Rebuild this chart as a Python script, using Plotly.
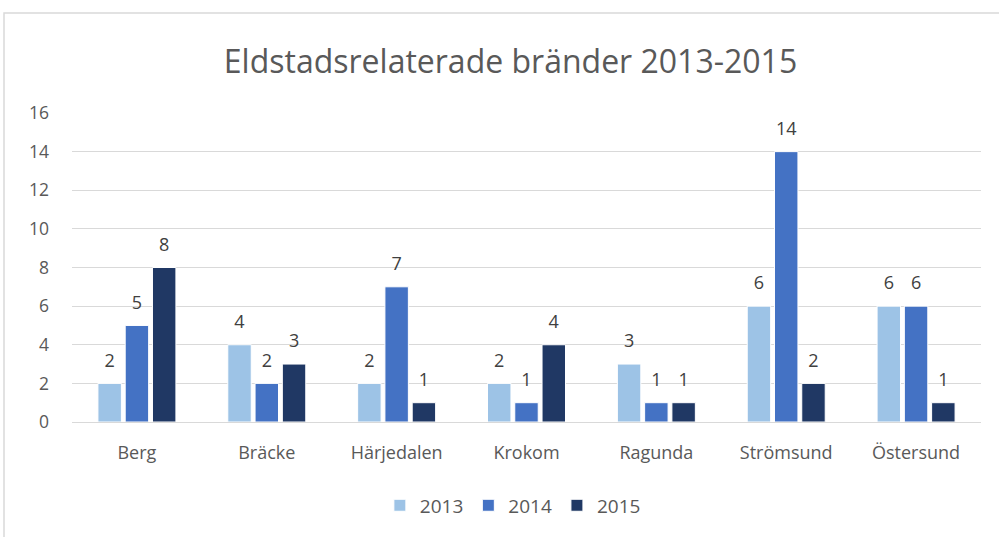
import plotly.graph_objects as go

categories = ["Berg", "Bräcke", "Härjedalen", "Krokom", "Ragunda", "Strömsund", "Östersund"]
v2013 = [2, 4, 2, 2, 3, 6, 6]
v2014 = [5, 2, 7, 1, 1, 14, 6]
v2015 = [8, 3, 1, 4, 1, 2, 1]
series_names = ["2013", "2014", "2015"]
colors = ["#9DC3E6", "#4472C4", "#203864"]

fig = go.Figure()
for name, vals, col in zip(series_names, [v2013, v2014, v2015], colors):
    fig.add_trace(go.Bar(
        x=categories, y=vals, name=name,
        marker=dict(color=col, line=dict(color="white", width=1)),
        offsetgroup=name, alignmentgroup="g",
    ))
for name, vals in zip(series_names, [v2013, v2014, v2015]):
    fig.add_trace(go.Scatter(
        x=categories, y=vals, mode="markers+text", showlegend=False, hoverinfo="skip",
        marker=dict(size=18, opacity=0), offsetgroup=name, alignmentgroup="g",
        text=[str(v) for v in vals], textposition="top center",
        textfont=dict(size=18, color="#404040"), cliponaxis=False,
    ))

fig.update_layout(
    width=999, height=537,
    margin=dict(l=72, r=18, t=113, b=115),
    paper_bgcolor="white", plot_bgcolor="white",
    font=dict(family="Open Sans", color="#595959", size=16),
    title=dict(text="Eldstadsrelaterade bränder 2013-2015", x=0.511, xref="container", xanchor="center",
               y=0.885, yref="container", yanchor="middle",
               font=dict(size=32, color="#595959")),
    barmode="group", bargap=0.37, bargroupgap=0.14,
    scattermode="group", scattergap=0.37,
    showlegend=True,
    legend=dict(orientation="h", x=0.485, xanchor="center", y=-0.27, yanchor="middle",
                font=dict(size=19, color="#595959"), traceorder="normal", itemwidth=30),
    xaxis=dict(showgrid=False, showline=True, linecolor="#D9D9D9", ticks="",
               tickfont=dict(size=18, color="#595959"), ticklabelstandoff=14),
    yaxis=dict(range=[0, 16], dtick=2, showgrid=True, gridcolor="#D9D9D9", gridwidth=1,
               zeroline=False, showline=False, ticks="", tickfont=dict(size=17.5, color="#595959"),
               ticklabelstandoff=22),
    shapes=[dict(type="rect", xref="paper", yref="paper", x0=-0.0748, x1=1.2, y0=-0.6, y1=1.3236,
                 line=dict(color="#D9D9D9", width=1.5), fillcolor="rgba(0,0,0,0)", layer="below")],
)
fig.write_html("out.html", config={"displayModeBar": False},
               post_script="document.body.style.margin='0';")
